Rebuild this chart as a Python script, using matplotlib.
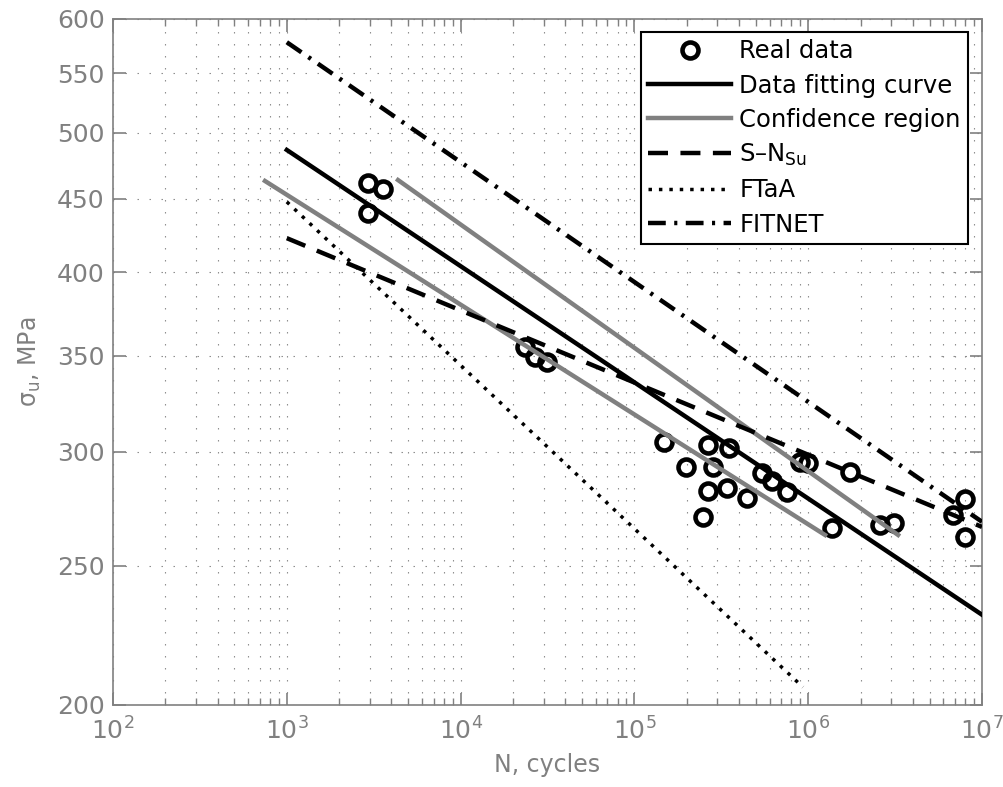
import matplotlib
matplotlib.use("Agg")
import matplotlib.pyplot as plt
from matplotlib.ticker import FixedLocator, LogLocator, NullFormatter, FixedFormatter, LogFormatterMathtext

# ---- data ----
real_N = [2931, 3577, 2931, 23500, 26800, 31400, 148000, 265000, 350000,
          198000, 283000, 265000, 341000, 445000, 248000, 542000, 619000,
          755000, 897000, 998000, 1.37e6, 1.74e6, 2.59e6, 3.12e6, 6.81e6,
          7.98e6, 7.98e6]
real_S = [461.4, 457.0, 439.8, 354.7, 349.1, 346.3, 304.7, 303.2, 301.8,
          292.8, 292.8, 281.8, 283.1, 278.6, 270.3, 290.0, 286.3,
          281.3, 295.2, 294.5, 265.6, 290.5, 266.8, 267.7, 271.2,
          278.2, 261.7]

fit_N = [1e3, 1e7]
fit_S = [486.5, 231.1]
conf_lo_N = [749, 1.25e6]
conf_lo_S = [462.9, 262.6]
conf_hi_N = [4364, 3.29e6]
conf_hi_S = [463.6, 262.6]
sn_N = [1e3, 1e7]
sn_S = [422.4, 266.0]
ftaa_N = [1e3, 9.33e5]
ftaa_S = [447.7, 205.8]
fitnet_N = [1e3, 1e7]
fitnet_S = [578.1, 268.2]

y_ticks = [200, 250, 300, 350, 400, 450, 500, 550, 600]
x_lim = [1e2, 1e7]

labels = ["Real data", "Data fitting curve", "Confidence region",
          "S\u2013N$_\\mathregular{Su}$", "FTaA", "FITNET"]

GRAY = "#808080"

plt.rcParams["font.family"] = ["DejaVu Sans"]
plt.rcParams["mathtext.fontset"] = "dejavusans"

fig = plt.figure(figsize=(10.04, 7.87), dpi=100)
ax = fig.add_axes([113/1004, 82/787, (982-113)/1004, (705-19)/787])
ax.set_xscale("log")
ax.set_yscale("log")
ax.set_xlim(x_lim)
ax.set_ylim(y_ticks[0], y_ticks[-1])

# grid
grid_kw = dict(color="#8a8a8a", linewidth=0.8, linestyle=(0, (1.3, 9.5)))
ax.xaxis.set_major_locator(LogLocator(base=10, numticks=20))
ax.xaxis.set_minor_locator(LogLocator(base=10, subs=range(2, 10), numticks=20))
ax.xaxis.set_minor_formatter(NullFormatter())
ax.xaxis.set_major_formatter(LogFormatterMathtext())
ax.yaxis.set_major_locator(FixedLocator(y_ticks))
ax.yaxis.set_major_formatter(FixedFormatter([str(v) for v in y_ticks]))
ax.yaxis.set_minor_locator(FixedLocator([]))
ax.yaxis.set_minor_formatter(NullFormatter())
ax.grid(True, which="major", axis="both", **grid_kw)
ax.grid(True, which="minor", axis="x", **grid_kw)
ax.set_axisbelow(True)

lw = 3.2
h_real, = ax.plot(real_N, real_S, linestyle="none", marker="o", ms=11.5,
                  mfc="none", mec="black", mew=3.3, zorder=2)
h_fit, = ax.plot(fit_N, fit_S, color="black", lw=lw, zorder=3)
h_conf, = ax.plot(conf_lo_N, conf_lo_S, color=GRAY, lw=lw, zorder=3)
ax.plot(conf_hi_N, conf_hi_S, color=GRAY, lw=lw, zorder=3)
h_sn, = ax.plot(sn_N, sn_S, color="black", lw=lw, linestyle=(0, (4.5, 2.8)), zorder=3)
h_ftaa, = ax.plot(ftaa_N, ftaa_S, color="black", lw=2.5, linestyle=(0, (1, 2)), zorder=3)
h_fitnet, = ax.plot(fitnet_N, fitnet_S, color="black", lw=lw,
                    linestyle=(0, (4.0, 1.9, 0.7, 1.9)), zorder=3)

# ticks & spines
for s in ax.spines.values():
    s.set_color(GRAY)
    s.set_linewidth(1.2)
ax.tick_params(which="both", direction="in", top=True, right=True, color=GRAY,
               labelcolor=GRAY, labelsize=18)
ax.tick_params(which="major", length=9, width=1.2, pad=6)
ax.tick_params(which="minor", length=5, width=1.0)
ax.tick_params(axis="x", which="major", pad=9)

ax.set_xlabel("N, cycles", fontsize=17, color=GRAY, labelpad=6)
ax.set_ylabel("$\\mathregular{\\sigma_u}$, MPa", fontsize=17, color=GRAY, labelpad=10)

leg = ax.legend([h_real, h_fit, h_conf, h_sn, h_ftaa, h_fitnet], labels,
                loc="upper right", fontsize=17.5, numpoints=1, handlelength=3.4,
                handletextpad=0.35, labelspacing=0.42, borderpad=0.3,
                borderaxespad=0.0, bbox_to_anchor=(968/1004, 1 - 32/787),
                bbox_transform=fig.transFigure, fancybox=False, framealpha=1)
leg.get_frame().set_edgecolor("black")
leg.get_frame().set_linewidth(1.5)

fig.savefig("out.png", dpi=100)
